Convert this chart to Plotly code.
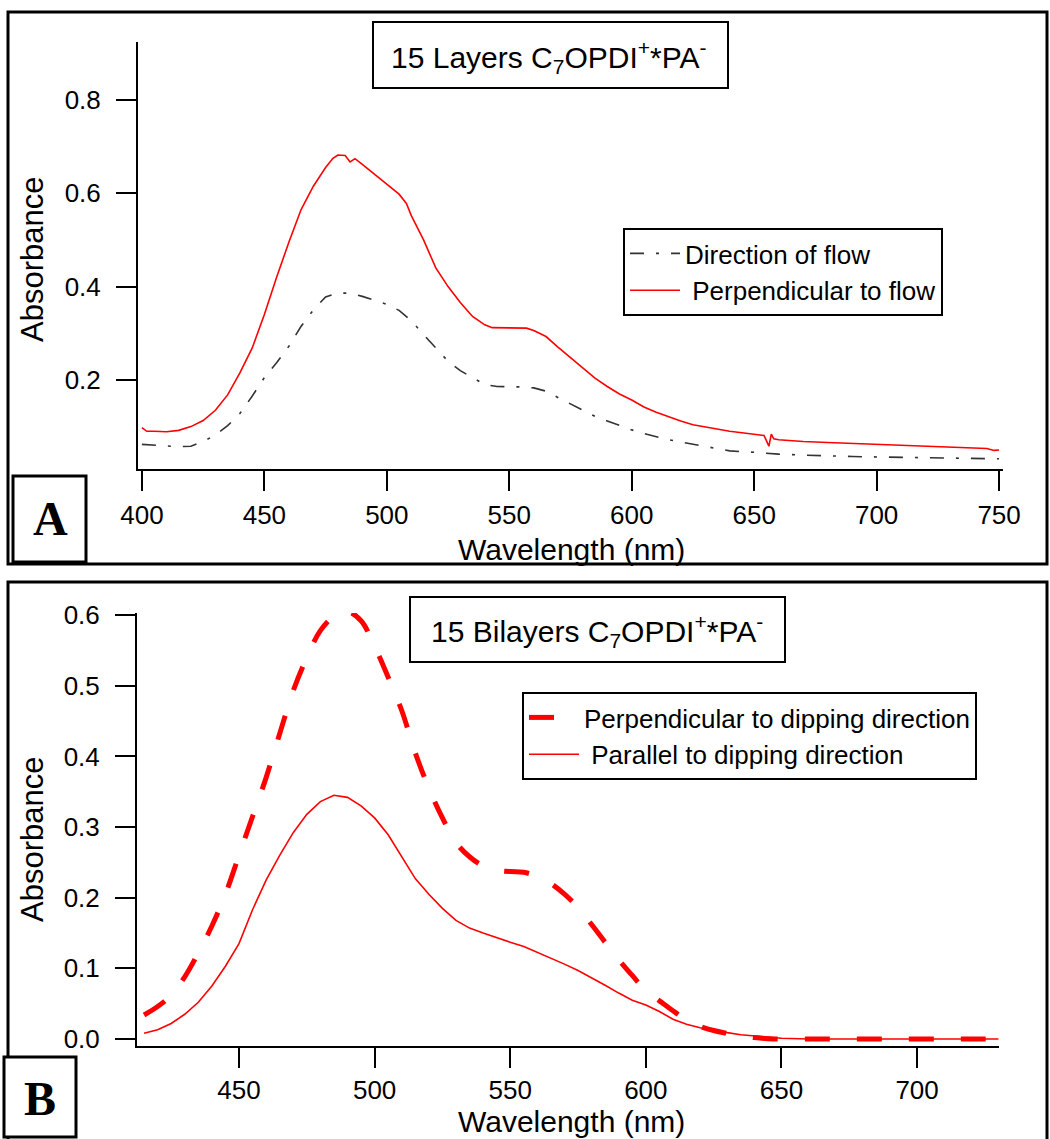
import plotly.graph_objects as go

W, H = 1050, 1139

# ---------------- Panel A data ----------------
wl_a = [400, 402, 405, 410, 415, 420, 425, 430, 435, 440, 445, 450, 455, 460, 465, 470, 475, 478,
        480, 483, 485, 487, 490, 495, 500, 505, 508, 510, 515, 520, 525, 530, 535, 540, 543, 550,
        557, 560, 565, 570, 575, 580, 585, 590, 595, 600, 605, 610, 615, 620, 625, 630, 635, 640,
        645, 650, 654, 655, 656, 657, 658, 660, 670, 680, 690, 700, 710, 720, 730, 740, 745, 748, 750]
perp_flow = [0.098, 0.090, 0.090, 0.089, 0.092, 0.100, 0.113, 0.135, 0.168, 0.215, 0.268, 0.340,
             0.420, 0.495, 0.565, 0.615, 0.655, 0.675, 0.682, 0.681, 0.667, 0.674, 0.662, 0.640,
             0.618, 0.598, 0.578, 0.552, 0.500, 0.440, 0.400, 0.366, 0.336, 0.318, 0.312, 0.311,
             0.311, 0.306, 0.293, 0.270, 0.248, 0.224, 0.204, 0.186, 0.170, 0.157, 0.142, 0.131,
             0.121, 0.112, 0.104, 0.099, 0.094, 0.090, 0.087, 0.084, 0.081, 0.070, 0.058, 0.084,
             0.074, 0.072, 0.068, 0.066, 0.064, 0.063, 0.060, 0.058, 0.056, 0.055, 0.053, 0.049, 0.050]

wl_a2 = [400, 405, 410, 415, 420, 425, 430, 435, 440, 445, 450, 455, 460, 465, 470, 475, 480, 485,
         490, 495, 500, 505, 510, 515, 520, 525, 530, 535, 540, 545, 550, 555, 560, 565, 570, 575,
         580, 585, 590, 595, 600, 605, 610, 615, 620, 625, 630, 635, 640, 650, 660, 670, 680, 690,
         700, 710, 720, 730, 740, 750]
dir_flow = [0.062, 0.060, 0.058, 0.057, 0.058, 0.068, 0.082, 0.102, 0.128, 0.165, 0.205, 0.237,
            0.272, 0.315, 0.350, 0.378, 0.386, 0.386, 0.379, 0.370, 0.362, 0.349, 0.327, 0.297,
            0.268, 0.240, 0.220, 0.205, 0.190, 0.186, 0.186, 0.185, 0.183, 0.176, 0.162, 0.149,
            0.135, 0.122, 0.112, 0.102, 0.093, 0.085, 0.078, 0.072, 0.067, 0.062, 0.057, 0.052,
            0.048, 0.045, 0.041, 0.039, 0.037, 0.036, 0.035, 0.034, 0.033, 0.032, 0.032, 0.031]

# ---------------- Panel B data ----------------
wl_b = [415, 420, 425, 430, 435, 440, 445, 450, 455, 460, 465, 470, 475, 480, 485, 490, 495, 500,
        505, 510, 515, 520, 525, 530, 535, 540, 545, 550, 555, 560, 565, 570, 575, 580, 585, 590,
        595, 600, 605, 610, 615, 620, 625, 630, 635, 640, 645, 650, 660, 670, 680, 690, 700, 710,
        720, 730]
perp_dip = [0.034, 0.046, 0.062, 0.088, 0.122, 0.160, 0.205, 0.260, 0.315, 0.370, 0.432, 0.493,
            0.540, 0.578, 0.598, 0.605, 0.592, 0.556, 0.512, 0.465, 0.405, 0.355, 0.313, 0.278,
            0.258, 0.245, 0.239, 0.237, 0.236, 0.230, 0.220, 0.205, 0.186, 0.162, 0.137, 0.112,
            0.090, 0.068, 0.054, 0.040, 0.027, 0.018, 0.012, 0.008, 0.004, 0.002, 0.0005, 0.0,
            0.0, 0.0, 0.0, 0.0, 0.0, 0.0, 0.0, 0.0]
para_dip = [0.008, 0.013, 0.022, 0.035, 0.052, 0.075, 0.103, 0.135, 0.183, 0.225, 0.260, 0.292,
            0.318, 0.336, 0.345, 0.342, 0.330, 0.313, 0.289, 0.258, 0.227, 0.205, 0.185, 0.168,
            0.157, 0.150, 0.143, 0.137, 0.131, 0.123, 0.115, 0.106, 0.097, 0.087, 0.076, 0.065,
            0.055, 0.048, 0.039, 0.028, 0.021, 0.016, 0.012, 0.009, 0.006, 0.004, 0.003, 0.001,
            0.0, 0.0, 0.0, 0.0, 0.0, 0.0, 0.0, 0.0]

ticks_xa = [400, 450, 500, 550, 600, 650, 700, 750]
ticks_ya = [0.2, 0.4, 0.6, 0.8]
ticks_xb = [450, 500, 550, 600, 650, 700]
ticks_yb = [0.0, 0.1, 0.2, 0.3, 0.4, 0.5, 0.6]

FONT = "Liberation Sans, Arial, sans-serif"
SERIF = "Liberation Serif, Times New Roman, serif"


def px(x):
    return x / W


def py(y):
    return 1 - y / H


fig = go.Figure()
fig.add_trace(go.Scatter(x=wl_a2, y=dir_flow, mode="lines", name="Direction of flow",
                         line=dict(color="#333333", width=1.6, dash="14px,12px,3px,12px"),
                         xaxis="x", yaxis="y", legend="legend"))
fig.add_trace(go.Scatter(x=wl_a, y=perp_flow, mode="lines", name="\u00a0Perpendicular to flow",
                         line=dict(color="#ff0000", width=1.6),
                         xaxis="x", yaxis="y", legend="legend"))
fig.add_trace(go.Scatter(x=wl_b, y=perp_dip, mode="lines", name="Perpendicular to dipping direction",
                         line=dict(color="#ff0000", width=5, dash="25px,27px", shape="spline"),
                         xaxis="x2", yaxis="y2", legend="legend2"))
fig.add_trace(go.Scatter(x=wl_b, y=para_dip, mode="lines", name="\u00a0Parallel to dipping direction",
                         line=dict(color="#ff0000", width=1.6),
                         xaxis="x2", yaxis="y2", legend="legend2"))

axis_common = dict(showline=True, linecolor="black", linewidth=2, ticks="outside", ticklen=20,
                   tickwidth=2, tickcolor="black", showgrid=False, zeroline=False,
                   automargin=False,
                   tickfont=dict(family=FONT, size=26, color="black"))

fig.update_layout(
    template="none",
    width=W, height=H, autosize=False,
    margin=dict(l=0, r=0, t=0, b=0, pad=0, autoexpand=False),
    paper_bgcolor="white", plot_bgcolor="white",
    xaxis=dict(domain=[px(138), px(1003)], range=[398.4, 751.6], tickvals=ticks_xa,
               anchor="y", ticklabelstandoff=2, **axis_common),
    yaxis=dict(domain=[py(469), py(42)], range=[0.0092, 0.924], tickvals=ticks_ya,
               tickformat=".1f", anchor="x", ticklabelstandoff=10, **axis_common),
    xaxis2=dict(domain=[px(137), px(999)], range=[412.4, 730.2], tickvals=ticks_xb,
                anchor="y2", ticklabelstandoff=0, **axis_common),
    yaxis2=dict(domain=[py(1046), py(613)], range=[-0.0099, 0.603], tickvals=ticks_yb,
                tickformat=".1f", anchor="x2", ticklabelstandoff=10, **axis_common),
    legend=dict(x=px(623), y=py(228), xanchor="left", yanchor="top", bordercolor="black",
                borderwidth=2, bgcolor="white", font=dict(family=FONT, size=26, color="black"),
                tracegroupgap=0, itemwidth=50),
    legend2=dict(x=px(522), y=py(692), xanchor="left", yanchor="top", bordercolor="black",
                 borderwidth=2, bgcolor="white", font=dict(family=FONT, size=26, color="black"),
                 tracegroupgap=0, itemwidth=50),
    showlegend=True,
)

shapes = [
    # panel frames
    dict(type="rect", xref="paper", yref="paper", x0=px(8), x1=px(1047), y0=py(564), y1=py(12),
         line=dict(color="black", width=3)),
    dict(type="rect", xref="paper", yref="paper", x0=px(8), x1=px(1047), y0=py(1150), y1=py(582),
         line=dict(color="black", width=3)),
    # title boxes
    dict(type="rect", xref="paper", yref="paper", x0=px(373), x1=px(728), y0=py(88), y1=py(22),
         line=dict(color="black", width=2), fillcolor="white"),
    dict(type="rect", xref="paper", yref="paper", x0=px(410), x1=px(785), y0=py(662), y1=py(597),
         line=dict(color="black", width=2), fillcolor="white"),
    # panel letter boxes
    dict(type="rect", xref="paper", yref="paper", x0=px(13), x1=px(86), y0=py(562), y1=py(476),
         line=dict(color="black", width=3), fillcolor="white"),
    dict(type="rect", xref="paper", yref="paper", x0=px(4), x1=px(76), y0=py(1137), y1=py(1057),
         line=dict(color="black", width=3), fillcolor="white"),
]
fig.update_layout(shapes=shapes)

annotations = [
    dict(text="15 Layers C<sub>7</sub>OPDI<sup>+</sup>*PA<sup>-</sup>", x=px(549), y=py(57),
         font=dict(family=FONT, size=30, color="black")),
    dict(text="15 Bilayers C<sub>7</sub>OPDI<sup>+</sup>*PA<sup>-</sup>", x=px(597), y=py(631),
         font=dict(family=FONT, size=30, color="black")),
    dict(text="Absorbance", x=px(32), y=py(260), textangle=-90,
         font=dict(family=FONT, size=31, color="black")),
    dict(text="Absorbance", x=px(32), y=py(840), textangle=-90,
         font=dict(family=FONT, size=31, color="black")),
    dict(text="Wavelength (nm)", x=px(571), y=py(549),
         font=dict(family=FONT, size=30, color="black")),
    dict(text="Wavelength (nm)", x=px(571), y=py(1121),
         font=dict(family=FONT, size=30, color="black")),
    dict(text="<b>A</b>", x=px(50), y=py(518), font=dict(family=SERIF, size=48, color="black")),
    dict(text="<b>B</b>", x=px(40), y=py(1098), font=dict(family=SERIF, size=48, color="black")),
]
for a in annotations:
    a.update(xref="paper", yref="paper", showarrow=False, xanchor="center", yanchor="middle")
fig.update_layout(annotations=annotations)

fig.write_html("out.html")
